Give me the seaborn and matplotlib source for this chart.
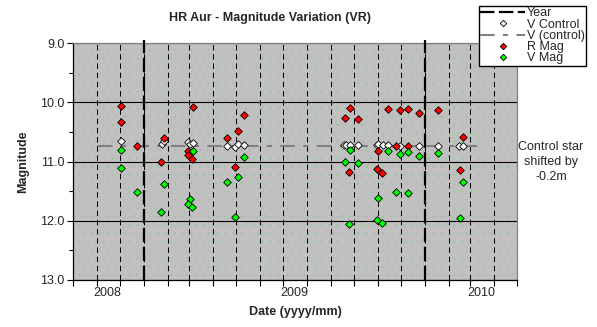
import matplotlib
matplotlib.use("Agg")
import matplotlib.pyplot as plt
import matplotlib.dates as mdates
from matplotlib.lines import Line2D
from matplotlib.patches import Rectangle
from matplotlib.ticker import FixedLocator, FixedFormatter, MultipleLocator, FormatStrFormatter
import pandas as pd
import seaborn as sns

# ---- observations -------------------------------------------------------
r_dates = ["2008-12-02", "2008-12-02", "2008-12-23", "2009-01-27", "2009-01-24",
           "2009-03-06", "2009-02-28", "2009-02-27", "2009-03-05", "2009-05-11",
           "2009-05-03", "2009-04-19", "2009-04-30", "2009-09-26", "2009-09-19",
           "2009-10-07", "2009-09-25", "2009-11-14", "2009-11-30", "2009-11-25",
           "2009-11-02", "2009-10-31", "2009-11-07", "2009-12-10", "2009-12-10",
           "2009-12-25", "2010-01-18", "2010-02-20", "2010-02-16"]
r_mags = [10.07, 10.33, 10.73, 10.60, 11.00,
          10.08, 10.82, 10.89, 10.95, 10.21,
          10.48, 10.60, 11.10, 10.10, 10.27,
          10.29, 11.17, 10.11, 10.13, 10.73,
          10.82, 11.12, 11.20, 10.11, 10.73,
          10.18, 10.13, 10.58, 11.14]

v_dates = ["2008-12-02", "2008-12-02", "2008-12-23", "2009-01-27", "2009-01-24",
           "2009-03-06", "2009-03-02", "2009-02-27", "2009-03-05", "2009-05-11",
           "2009-05-03", "2009-04-19", "2009-04-30", "2009-09-26", "2009-09-19",
           "2009-10-07", "2009-09-25", "2009-11-14", "2009-11-30", "2009-11-25",
           "2009-11-02", "2009-10-31", "2009-11-07", "2009-12-10", "2009-12-10",
           "2009-12-25", "2010-01-18", "2010-02-20", "2010-02-16"]
v_mags = [10.80, 11.11, 11.52, 11.38, 11.86,
          10.82, 11.64, 11.71, 11.77, 10.93,
          11.27, 11.34, 11.94, 10.81, 11.01,
          11.02, 12.06, 10.83, 10.87, 11.52,
          11.61, 11.99, 12.04, 10.84, 11.54,
          10.91, 10.86, 11.34, 11.96]

c_dates = ["2008-12-02", "2009-01-25", "2009-01-27", "2009-02-27", "2009-03-02",
           "2009-03-06", "2009-04-19", "2009-04-30", "2009-05-03", "2009-05-11",
           "2009-09-18", "2009-09-21", "2009-09-26", "2009-10-07", "2009-10-31",
           "2009-11-02", "2009-11-08", "2009-11-14", "2009-11-30", "2009-12-25",
           "2010-01-18", "2010-02-15", "2010-02-20"]
c_mags = [10.65, 10.70, 10.65, 10.67, 10.70,
          10.69, 10.74, 10.75, 10.71, 10.72,
          10.72, 10.72, 10.72, 10.72, 10.72,
          10.71, 10.72, 10.72, 10.73, 10.73,
          10.73, 10.74, 10.73]

# mean control level (V, shifted by -0.2m) and the span it is drawn over
ctrl_level_dates = ["2008-11-02", "2010-03-12"]
ctrl_level_mags = [10.73, 10.73]

# year boundaries
year_dates = ["2009-01-01", "2010-01-01"]

# axis ranges and labels
x_range = ["2008-10-01", "2010-05-01"]
x_label_dates = ["2008-11-15", "2009-07-16", "2010-03-16"]
x_labels = ["2008", "2009", "2010"]
y_range = [9.0, 13.0]

# ---- styling ------------------------------------------------------------
sns.set_style("white")
plt.rcParams["font.family"] = ["Liberation Sans", "DejaVu Sans"]
plt.rcParams["hatch.linewidth"] = 0.3

W, H = 597, 327
fig = plt.figure(figsize=(W / 100, H / 100), dpi=100)
fig.patch.set_facecolor("white")
ax = fig.add_axes([73 / W, 1 - 280 / H, (517 - 73) / W, (280 - 43) / H])
ax.set_facecolor("#c0c0c0")

# dotted fill pattern of the plot area
ax.add_patch(Rectangle((0, 0), 1, 1, transform=ax.transAxes, facecolor="none",
                       edgecolor="#98c898", hatch="..", lw=0, zorder=0))

frames = []
for name, d, m in [("V Control", c_dates, c_mags),
                   ("R Mag", r_dates, r_mags),
                   ("V Mag", v_dates, v_mags)]:
    frames.append(pd.DataFrame({"date": pd.to_datetime(d), "mag": m, "series": name}))
df = pd.concat(frames, ignore_index=True)

palette = {"V Control": "#ffffff", "R Mag": "#ff0000", "V Mag": "#00ff00"}

# control mean level
ax.plot(pd.to_datetime(ctrl_level_dates), ctrl_level_mags, color="#808080",
        lw=1.5, linestyle=(0, (7, 4, 2.5, 4)), zorder=2, dash_capstyle="butt")

for name in ["V Control", "R Mag", "V Mag"]:
    sub = df[df["series"] == name]
    sns.scatterplot(data=sub, x="date", y="mag", ax=ax, marker="D", s=15,
                    color=palette[name], edgecolor="black", linewidth=0.6,
                    zorder=4, legend=False)

# year separators
for yd in year_dates:
    ax.axvline(pd.to_datetime(yd), ymin=0, ymax=1 + 3 / 237, color="black",
               lw=1.6, linestyle=(0, (6.5, 2)), clip_on=False, zorder=3,
               dash_capstyle="butt")

ax.set_xlim(pd.to_datetime(x_range[0]), pd.to_datetime(x_range[1]))
ax.set_ylim(y_range[1], y_range[0])

# x axis: month ticks, year labels between ticks
ax.xaxis.set_major_locator(mdates.MonthLocator())
ax.xaxis.set_major_formatter(FixedFormatter([]))
ax.xaxis.set_minor_locator(FixedLocator(mdates.date2num(pd.to_datetime(x_label_dates))))
ax.xaxis.set_minor_formatter(FixedFormatter(x_labels))
ax.tick_params(axis="x", which="major", direction="out", length=4, width=0.8,
               color="black", bottom=True)
ax.tick_params(axis="x", which="minor", length=0, pad=5, labelsize=9)

# y axis
ax.yaxis.set_major_locator(MultipleLocator(1.0))
ax.yaxis.set_minor_locator(MultipleLocator(0.5))
ax.yaxis.set_major_formatter(FormatStrFormatter("%.1f"))
ax.tick_params(axis="y", which="major", direction="out", length=4, width=0.8,
               color="black", left=True, labelsize=9, pad=2)
ax.tick_params(axis="y", which="minor", direction="out", length=3, width=0.8,
               color="black", left=True)

ax.set_axisbelow(True)
ax.grid(axis="x", which="major", color="black", lw=0.72, linestyle=(0, (5.5, 3.7)))
ax.grid(axis="y", which="major", color="black", lw=0.8, linestyle="-")

for side in ["left", "bottom"]:
    ax.spines[side].set_color("black")
    ax.spines[side].set_linewidth(0.9)
for side in ["top", "right"]:
    ax.spines[side].set_color("#808080")
    ax.spines[side].set_linewidth(0.9)
for sp in ax.spines.values():
    sp.set_zorder(2.6)

ax.set_xlabel("Date (yyyy/mm)", fontsize=9, fontweight="bold", labelpad=5)
ax.set_ylabel("Magnitude", fontsize=9, fontweight="bold", labelpad=8)

fig.text(270 / W, 1 - 18 / H, "HR Aur - Magnitude Variation (VR)", ha="center",
         va="center", fontsize=9, fontweight="bold")

fig.text(551 / W, 1 - 162 / H, "Control star\nshifted by\n-0.2m", ha="center",
         va="center", multialignment="center", fontsize=9, linespacing=1.3)

handles = [
    Line2D([], [], color="black", lw=1.6, linestyle=(0, (6.5, 2))),
    Line2D([], [], color="none", marker="D", markerfacecolor="white",
           markeredgecolor="black", markersize=3.3, markeredgewidth=0.6),
    Line2D([], [], color="#808080", lw=1.5, linestyle=(0, (7, 4, 2.5, 4))),
    Line2D([], [], color="none", marker="D", markerfacecolor="#ff0000",
           markeredgecolor="black", markersize=3.3, markeredgewidth=0.6),
    Line2D([], [], color="none", marker="D", markerfacecolor="#00ff00",
           markeredgecolor="black", markersize=3.3, markeredgewidth=0.6),
]
labels = ["Year", "V Control", "V (control)", "R Mag", "V Mag"]
leg = fig.legend(handles, labels, loc="upper left",
                 bbox_to_anchor=(479 / W, 1 - 6 / H), borderaxespad=0,
                 fontsize=9, labelspacing=-0.06, handlelength=3.6,
                 handletextpad=0.15, borderpad=0.1, fancybox=False,
                 edgecolor="black", framealpha=1, handleheight=0.6)
leg.get_frame().set_linewidth(1.0)

fig.savefig("out.png", dpi=100)
